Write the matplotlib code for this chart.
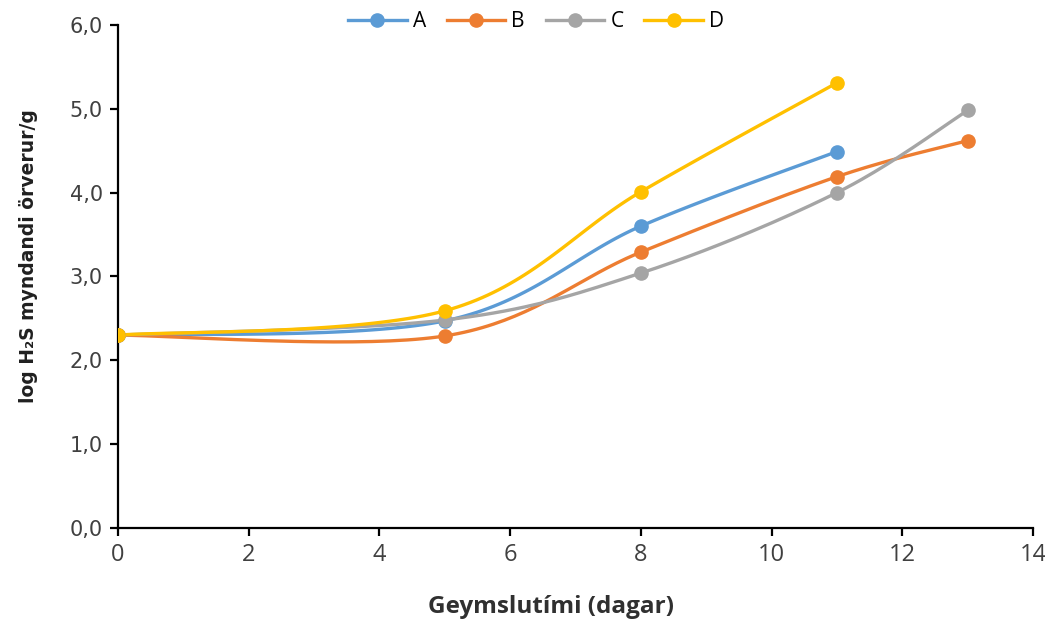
import numpy as np
import matplotlib
matplotlib.use("Agg")
import matplotlib.pyplot as plt

# data
days_AD = [0, 5, 8, 11]
days_BC = [0, 5, 8, 11, 13]
A = [2.30, 2.47, 3.60, 4.49]
B = [2.30, 2.29, 3.29, 4.19, 4.62]
C = [2.30, 2.48, 3.04, 4.00, 4.98]
D = [2.30, 2.59, 4.01, 5.31]

series = [
    ("A", days_AD, A, "#5B9BD5"),
    ("B", days_BC, B, "#ED7D31"),
    ("C", days_BC, C, "#A5A5A5"),
    ("D", days_AD, D, "#FFC000"),
]


def smooth(x, y, n=40):
    # Excel-like smoothed line: cubic bezier through points, catmull-rom control points
    x = np.asarray(x, float)
    y = np.asarray(y, float)
    px = np.concatenate([[x[0]], x, [x[-1]]])
    py = np.concatenate([[y[0]], y, [y[-1]]])
    xs, ys = [], []
    t = np.linspace(0, 1, n)
    for i in range(1, len(px) - 2):
        p0 = np.array([px[i], py[i]])
        p3 = np.array([px[i + 1], py[i + 1]])
        c1 = p0 + (np.array([px[i + 1], py[i + 1]]) - np.array([px[i - 1], py[i - 1]])) / 6
        c2 = p3 - (np.array([px[i + 2], py[i + 2]]) - np.array([px[i], py[i]])) / 6
        b = ((1 - t) ** 3)[:, None] * p0 + (3 * (1 - t) ** 2 * t)[:, None] * c1 \
            + (3 * (1 - t) * t ** 2)[:, None] * c2 + (t ** 3)[:, None] * p3
        xs.extend(b[:, 0])
        ys.extend(b[:, 1])
    return xs, ys


fig = plt.figure(figsize=(10.45, 6.24), dpi=100)
ax = fig.add_axes([0.113, 0.154, 0.8755, 0.806])

for name, x, y, col in series:
    sx, sy = smooth(x, y)
    ax.plot(sx, sy, color=col, lw=2.4, zorder=2)
    ax.plot(x, y, "o", color=col, ms=9.5, zorder=3)
    ax.plot([], [], "-o", color=col, lw=2.4, ms=9.5, label=name)

ax.set_xlim(0, 14)
ax.set_ylim(0, 6)
ax.set_xticks(range(0, 15, 2))
ax.set_yticks(range(0, 7))
ax.set_yticklabels([f"{v},0" for v in range(0, 7)], fontsize=15, color="#404040",
                   family="DejaVu Sans")
ax.set_xticklabels([str(v) for v in range(0, 15, 2)], fontsize=17, color="#404040",
                   family="Open Sans")

for s in ["top", "right"]:
    ax.spines[s].set_visible(False)
for s in ["left", "bottom"]:
    ax.spines[s].set_linewidth(1.6)
ax.tick_params(direction="out", length=6, width=1.6, pad=5)
ax.margins(0)

ax.set_xlabel("Geymslutími (dagar)", fontsize=17.5, fontweight="bold", family="Open Sans",
              color="#303030")
ax.xaxis.set_label_coords(0.473, -0.133)
ax.set_ylabel("log H₂S myndandi örverur/g", fontsize=13.5, fontweight="bold",
              family="DejaVu Sans", color="#202020")
ax.yaxis.set_label_coords(-0.087, 0.54)

fig.legend(loc="center", bbox_to_anchor=(0.513, 0.965), ncol=4, frameon=False,
           fontsize=15, handlelength=2.8, columnspacing=1.0, handletextpad=0.3,
           prop={"family": "Open Sans", "size": 15})

plt.savefig("out.png", dpi=100)
